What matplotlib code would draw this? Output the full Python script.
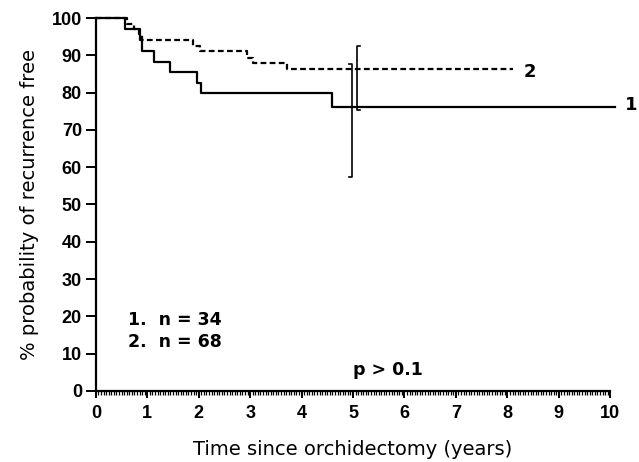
import matplotlib.pyplot as plt
from matplotlib.ticker import MultipleLocator

plt.rcParams["font.family"] = ["Liberation Sans", "DejaVu Sans"]

# Kaplan-Meier steps
t1 = [0, 0.56, 0.86, 0.90, 1.13, 1.45, 1.96, 2.04, 4.60, 10.1]
s1 = [100, 97.1, 94.1, 91.2, 88.3, 85.6, 82.7, 80.0, 76.2, 76.2]

t2 = [0, 0.60, 0.75, 0.83, 0.90, 1.89, 2.03, 2.93, 3.06, 3.71, 8.1]
s2 = [100, 98.5, 97.0, 95.6, 94.1, 92.6, 91.1, 89.4, 88.0, 86.3, 86.3]

# confidence intervals at 5 years: (x, low, high)
ci1 = (4.98, 57.4, 87.6)
ci2 = (5.08, 75.3, 92.5)

wide = ["DejaVu Sans"]

fig = plt.figure(figsize=(6.39, 4.62), dpi=100)
ax = fig.add_axes([0.150, 0.154, 0.805, 0.807])

ax.plot(t1, s1, drawstyle="steps-post", color="black", lw=1.6, clip_on=False)
ax.plot(t2, s2, drawstyle="steps-post", color="black", lw=1.6,
        dashes=(2.6, 1.5), clip_on=False)

# CI bars with small serifs
x, lo, hi = ci1
ax.plot([x - 0.05, x, x, x - 0.05], [hi, hi, lo, lo], color="black", lw=1.2)
x, lo, hi = ci2
ax.plot([x + 0.05, x, x, x + 0.05], [hi, hi, lo, lo], color="black", lw=1.2)

ax.text(8.31, 85.6, "2", fontsize=13, fontweight="bold", va="center", family=wide)
ax.text(10.29, 76.6, "1", fontsize=13, fontweight="bold", va="center", family=wide)

ax.text(0.62, 19.0, "1.  n = 34", fontsize=12.5, fontweight="bold", va="center", family=wide)
ax.text(0.62, 13.1, "2.  n = 68", fontsize=12.5, fontweight="bold", va="center", family=wide)
ax.text(5.0, 5.6, "p > 0.1", fontsize=12.5, fontweight="bold", va="center", family=wide)

ax.set_xlim(0, 10)
ax.set_ylim(0, 100)
ax.spines["top"].set_visible(False)
ax.spines["right"].set_visible(False)
ax.spines["left"].set_linewidth(1.6)
ax.spines["bottom"].set_linewidth(1.6)

ax.xaxis.set_major_locator(MultipleLocator(1))
ax.xaxis.set_minor_locator(MultipleLocator(0.05))
ax.yaxis.set_major_locator(MultipleLocator(10))
ax.tick_params(axis="x", which="major", length=5, width=1.4, labelsize=13, pad=5)
ax.tick_params(axis="x", which="minor", length=3, width=0.9)
ax.tick_params(axis="y", which="major", length=7, width=1.4, labelsize=13, pad=3)
for lab in ax.get_xticklabels() + ax.get_yticklabels():
    lab.set_fontweight("bold")

ax.set_xlabel("Time since orchidectomy (years)", fontsize=14, labelpad=13, family=wide)
ax.set_ylabel("% probability of recurrence free", fontsize=14, labelpad=9, family=wide)

fig.savefig("out.png", dpi=100)
